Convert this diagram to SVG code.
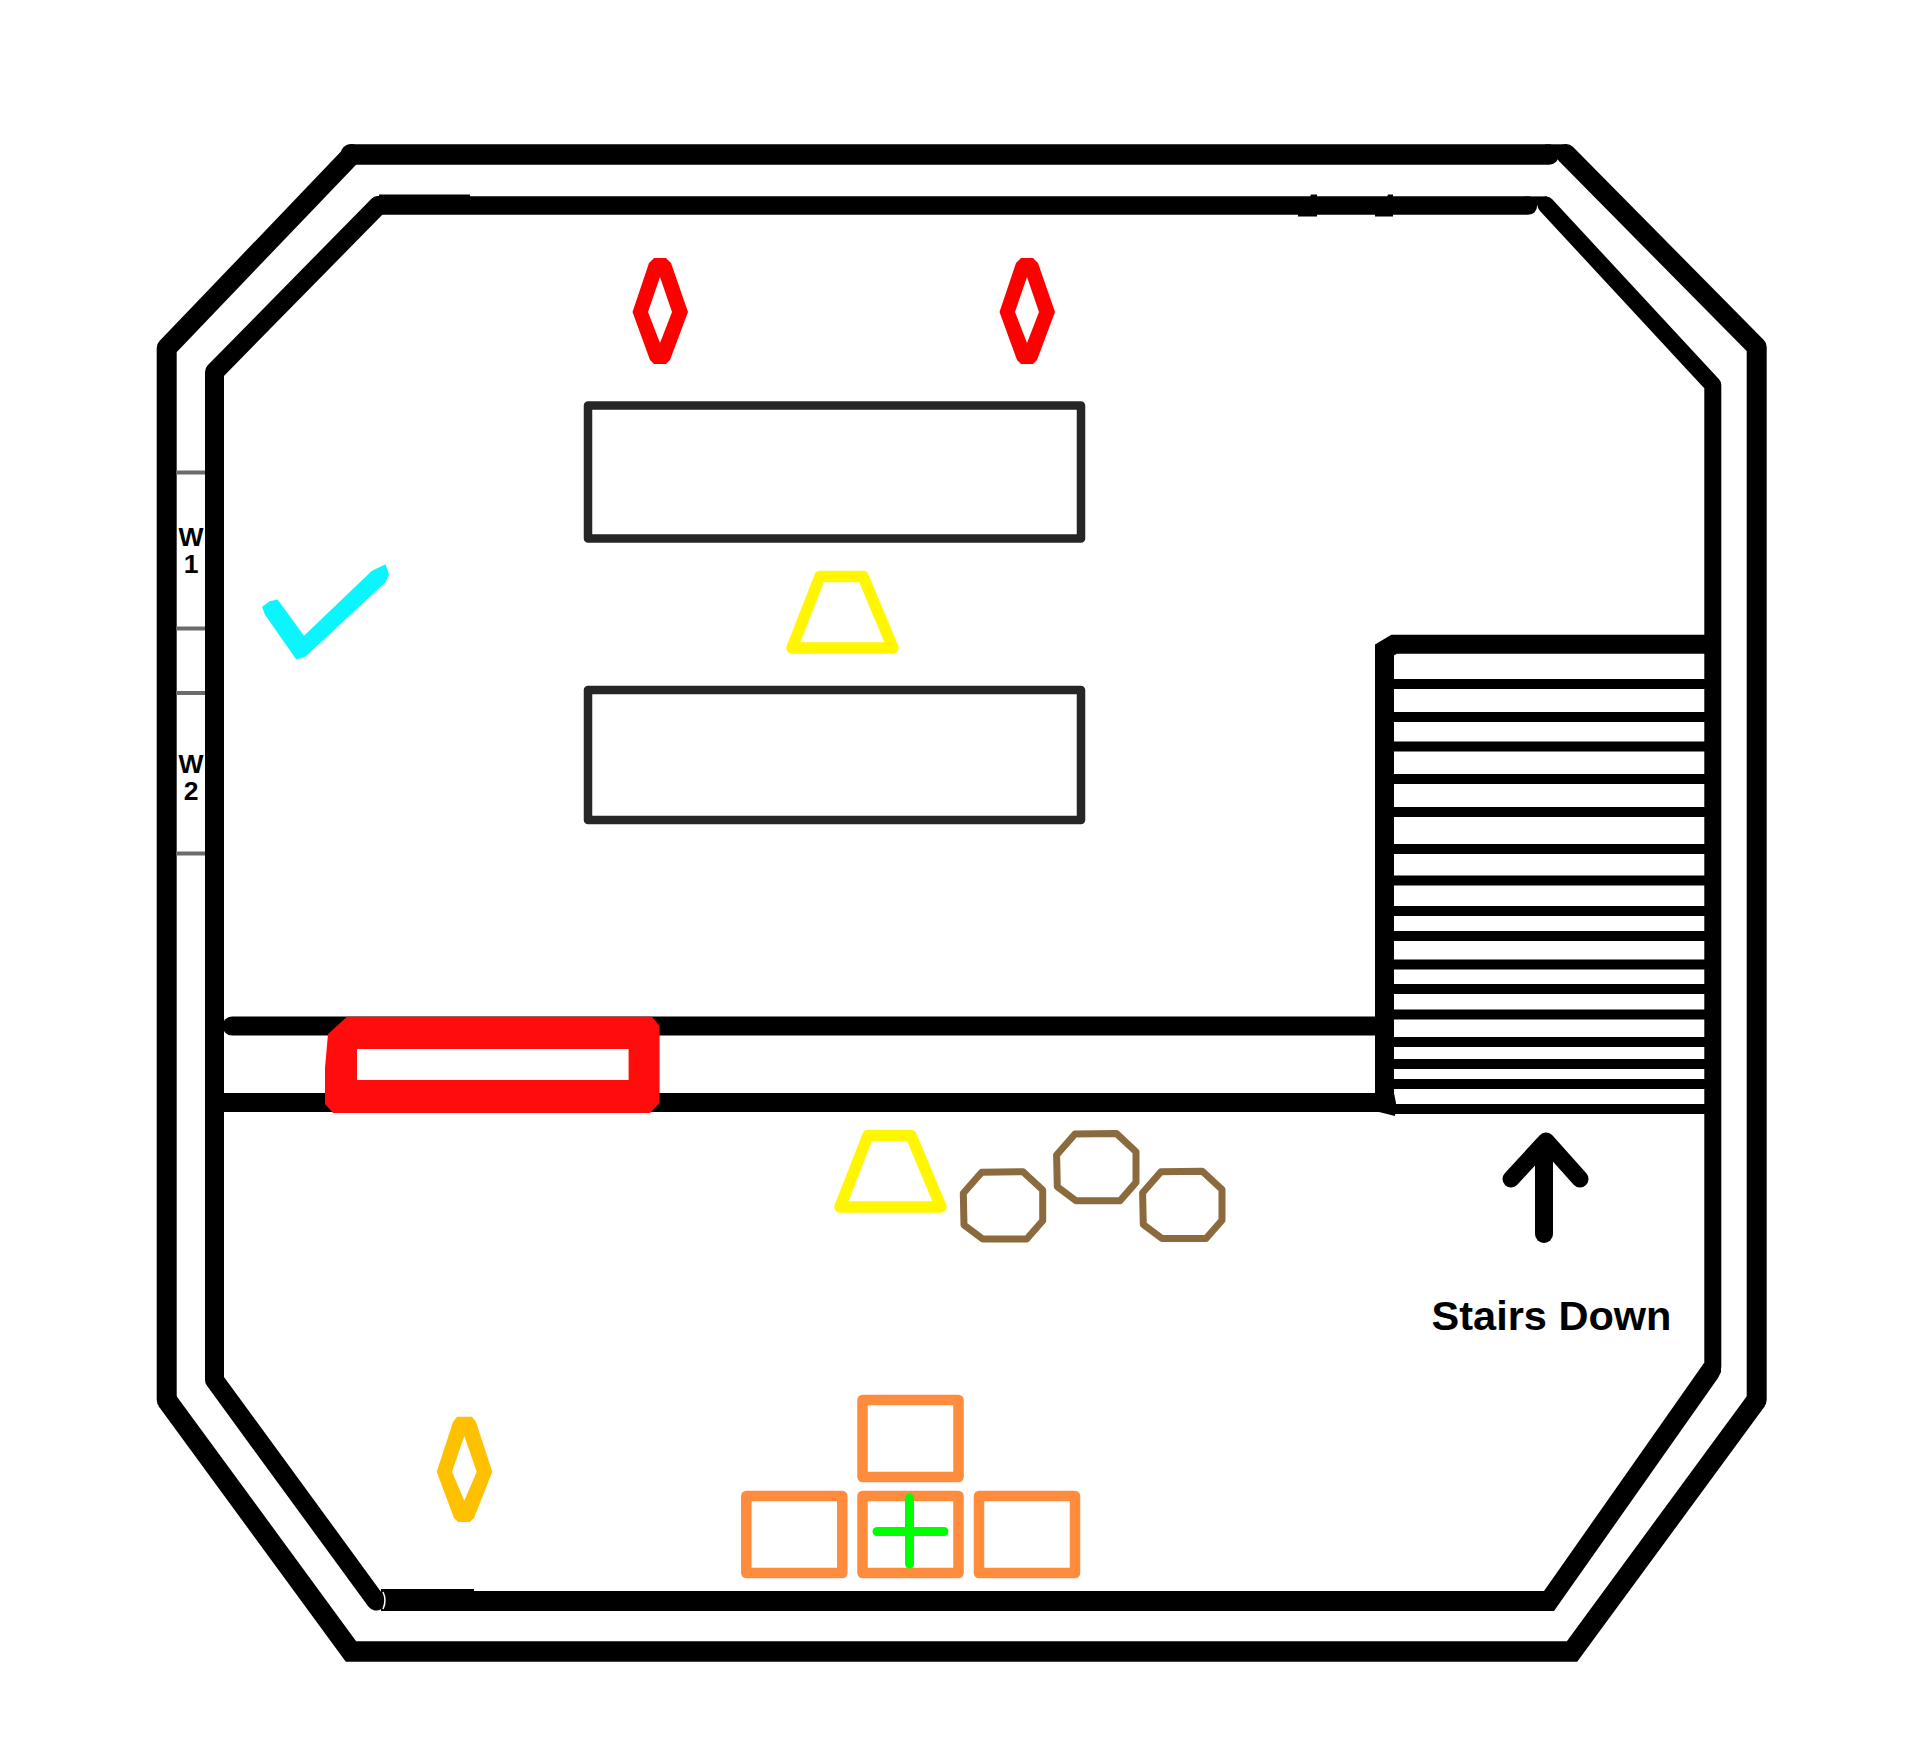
<svg xmlns="http://www.w3.org/2000/svg" width="1920" height="1761" viewBox="0 0 1920 1761">
<style>
.w{fill:none;stroke:#000;stroke-linejoin:round;stroke-linecap:round}
.b{fill:none;stroke:#000;stroke-linecap:butt;stroke-linejoin:miter}
.tread{stroke:#000;stroke-width:10}
.win{stroke:#6b6b6b;stroke-width:4}
.table{fill:none;stroke:#262626;stroke-width:8.500;stroke-linejoin:round}
.trap{fill:none;stroke:#fff600;stroke-width:11.500;stroke-linejoin:round}
.oct{fill:none;stroke:#8b6b3d;stroke-width:7;stroke-linejoin:round}
.box{fill:none;stroke:#ff8c3c;stroke-width:10.500;stroke-linejoin:round}
text{font-family:"Liberation Sans",Arial,sans-serif;font-weight:bold;fill:#000;text-anchor:middle}
</style>
<defs>
<path id="diamond" fill="#ff0000" fill-rule="evenodd" d="M654 258H666L671 263L688 312L670 360L666 364H654L650 360L632.500 312L649 263ZM660 277L648 312L660 343L672 312Z"/>
<polygon id="trapezoid" points="868,1135.5 911,1135.5 941,1207 840,1207"/>
<polygon id="octagon" points="981.7,1172.3 1023,1171.7 1042.7,1190 1042.7,1220.7 1026.7,1239 982.7,1239 964,1225 963.3,1193.3"/>
</defs>
<rect width="1920" height="1761" fill="#fff"/>
<g id="walls">
<path class="w" stroke-width="20.500" d="M352 154.500H1549"/>
<rect x="1545" y="144.300" width="22" height="10"/>
<path class="w" stroke-width="20" d="M1566 154L1756.700 347V1400"/>
<path class="w" stroke-width="20" d="M352 154.500L166.700 348V1400"/>
<circle cx="351" cy="154.500" r="10.500"/>
<path class="b" stroke-width="20.500" d="M166.700 1400L351 1651.500H1572L1756.700 1400"/>
<path class="w" stroke-width="19" d="M378 205.600L214.500 372V1380L376 1601"/>
<path d="M381 1591H1544L1704 1363H1721V1372L1718 1378L1554 1611H381Z"/>
<path class="w" stroke-width="17" d="M1712.800 1367V385L1546 205"/>
<path class="w" stroke-width="18.500" d="M378 205.600H1528"/>
<rect x="1525" y="196.400" width="22" height="9"/>
<rect x="379" y="194.500" width="91" height="10"/>
<path d="M1298 216.500V206H1306L1311 194.500H1317V216.500ZM1375 216.500V206H1383L1388 194.500H1393V216.500Z"/>
<rect x="381" y="1589" width="93" height="4"/>
<path d="M383 1592q4 8 0 17" fill="none" stroke="#fff" stroke-width="1.500"/>
<path class="w" stroke-width="19" d="M232 1026H1380"/>
<path class="b" stroke-width="19" d="M224 1102.500H1380"/>
</g>
<g id="stairs">
<path class="b" stroke-width="19" d="M1384.500 1104V650L1394 644.300H1706"/>
<path d="M1376 1093H1394L1396 1103L1395 1116L1375 1111Z"/>
<path class="tread" d="M1394 684H1706M1394 717H1706M1394 746.500H1706M1394 779H1706M1394 812H1706M1394 849H1706M1394 880.500H1706M1394 911H1706M1394 936H1706M1394 964.500H1706M1394 989H1706M1394 1014.500H1706M1394 1042H1706M1394 1064H1706M1394 1084H1706M1394 1109H1706"/>
</g>
<g id="stairs-arrow">
<path class="w" stroke-width="18" d="M1544 1234V1148"/>
<path class="w" stroke-width="17" d="M1511 1179L1546 1141L1580 1179"/>
</g>
<g id="stairs-label"><text x="1551.500" y="1329.500" font-size="41.500">Stairs Down</text></g>
<g id="windows">
<path class="win" d="M176 472.500H205M176 628.500H205M176 693H205M176 853.500H205"/>
<text x="191" y="546" font-size="26.500">W</text>
<text x="191" y="573" font-size="26.500">1</text>
<text x="191" y="773" font-size="26.500">W</text>
<text x="191" y="800" font-size="26.500">2</text>
</g>
<g id="table-1"><rect class="table" x="588" y="405.500" width="493" height="133"/></g>
<g id="table-2"><rect class="table" x="588" y="690" width="493" height="130"/></g>
<g id="red-diamond-1"><use href="#diamond"/></g>
<g id="red-diamond-2"><use href="#diamond" x="367"/></g>
<g id="amber-diamond"><path fill="#ffc000" fill-rule="evenodd" d="M457 1416.700H472L476 1422L492.300 1471.700L474 1518L470 1522H458L454 1518L436.700 1471.700L453 1422ZM464.300 1436L452 1471.700L464.300 1500.700L476.700 1471.700Z"/></g>
<g id="check"><path fill="#0bf5ff" d="M262 607L269.600 601.300L277.600 599.400L304 635.800L372 570.700L385.600 564.200L389 574.600L385.600 582.200L305.300 656.800L296.300 659.500L265 614.700Z"/></g>
<g id="red-frame"><path fill="#ff0d0d" fill-rule="evenodd" d="M347 1016.700H652L659.600 1026V1103L650 1113H333L325 1104V1068L328 1034ZM357 1049V1080H628.600V1049Z"/></g>
<g id="trapezoid-1"><use href="#trapezoid" class="trap" x="-48" y="-559"/></g>
<g id="trapezoid-2"><use href="#trapezoid" class="trap"/></g>
<g id="stool-1"><use href="#octagon" class="oct"/></g>
<g id="stool-2"><use href="#octagon" class="oct" x="93.300" y="-38.300"/></g>
<g id="stool-3"><use href="#octagon" class="oct" x="179.300" y="-0.500"/></g>
<g id="box-top"><rect class="box" x="862.500" y="1400" width="96" height="77"/></g>
<g id="box-left"><rect class="box" x="746.300" y="1496" width="96" height="77"/></g>
<g id="box-middle"><rect class="box" x="862.500" y="1496" width="96" height="77"/></g>
<g id="box-right"><rect class="box" x="979" y="1496" width="96" height="77"/></g>
<g id="plus"><path d="M909.500 1498V1564M877 1531.500H944" fill="none" stroke="#00ff00" stroke-width="9" stroke-linecap="round"/></g>
</svg>
